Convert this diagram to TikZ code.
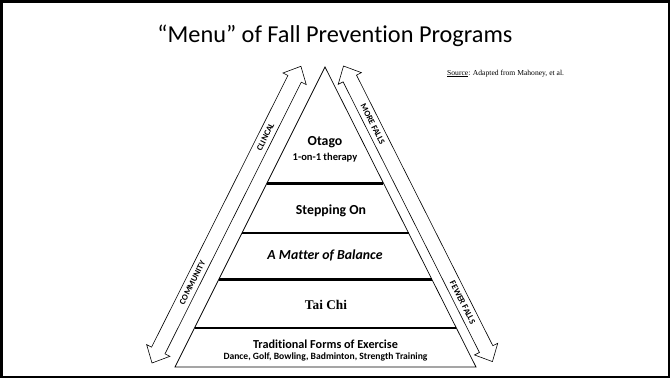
\documentclass[tikz,border=0pt]{standalone}
\usepackage{fontspec}
\setmainfont{Carlito}[Ligatures=NoCommon]
\newfontfamily\timesfont{Liberation Serif}
\usetikzlibrary{calc,positioning}

\tikzset{
  tier/.style={line width=2.8pt},
  level/.style={font=\bfseries\fontsize{13.8}{15}\selectfont},
  sublevel/.style={font=\bfseries\fontsize{10.5}{12}\selectfont, inner sep=0pt},
  armlabel/.style={font=\bfseries\fontsize{8.6}{9}\selectfont, transform shape, inner sep=0pt},
  bigarrow/.style={draw, fill=white, line width=0.6pt, line join=miter},
}

% hollow two-headed arrow lying along the x axis, #1 = length
\newcommand{\dblarrow}[1]{%
  \draw[bigarrow] (0,0) -- (14,13) -- (14,7.5) -- (#1-14,7.5) -- (#1-14,13) -- (#1,0)
    -- (#1-14,-13) -- (#1-14,-7.5) -- (14,-7.5) -- (14,-13) -- cycle;}

\begin{document}
\begin{tikzpicture}[x=1pt,y=-1pt]
\useasboundingbox (0,0) rectangle (670,378);
\draw[line width=2.5pt] (1.25,1.25) rectangle (668.75,376.75);

\node[font=\fontsize{24.3}{28}\selectfont, anchor=base] (title) at (335,42) {“Menu” of Fall Prevention Programs};
\node[font=\timesfont\fontsize{7.6}{9}\selectfont, anchor=west, inner sep=0pt] (source) at (447,73.5) {\underline{Source}: Adapted from Mahoney, et al.};

% side arrows
\begin{scope}[shift={(152,363)}, rotate=63.35]
  \dblarrow{332}
  \node[armlabel] (community) at (90,0) {COMMUNITY};
  \node[armlabel] (clincal) at (253,0) {CLINCAL};
\end{scope}
\begin{scope}[shift={(343.5,66)}, rotate=-63.26]
  \dblarrow{331}
  \node[armlabel] (morefalls) at (65,0) {MORE FALLS};
  \node[armlabel] (fewerfalls) at (265,0) {FEWER FALLS};
\end{scope}

% pyramid and its tiers
\coordinate (apex) at (325,67);
\coordinate (baseL) at (175,367);
\coordinate (baseR) at (476,367);
\draw[line width=0.7pt] (apex) -- (baseL) -- (baseR) -- cycle;
\foreach \f in {0.387,0.553,0.707}
  \draw[tier] ($(apex)!\f!(baseL)$) -- ($(apex)!\f!(baseR)$);
\draw[line width=1.5pt] ($(apex)!0.870!(baseL)$) -- ($(apex)!0.870!(baseR)$);

\node[level] (otago) at (325,142) {Otago};
\node[sublevel] (therapy) [below=1.5pt of otago] {1-on-1 therapy};
\node[level] (stepping) at (331,211) {Stepping On};
\node[level, font=\bfseries\itshape\fontsize{13.8}{15}\selectfont] (balance) at (325,255) {A Matter of Balance};
\node[level, font=\timesfont\bfseries\fontsize{13.3}{15}\selectfont] (taichi) at (326,305) {Tai Chi};
\node[font=\bfseries\fontsize{12.2}{14}\selectfont, inner sep=0pt] (traditional) at (325.5,344) {Traditional Forms of Exercise};
\node[font=\bfseries\fontsize{9.6}{11}\selectfont, inner sep=0pt] (forms) [below=4pt of traditional] {Dance, Golf, Bowling, Badminton, Strength Training};
\end{tikzpicture}
\end{document}
